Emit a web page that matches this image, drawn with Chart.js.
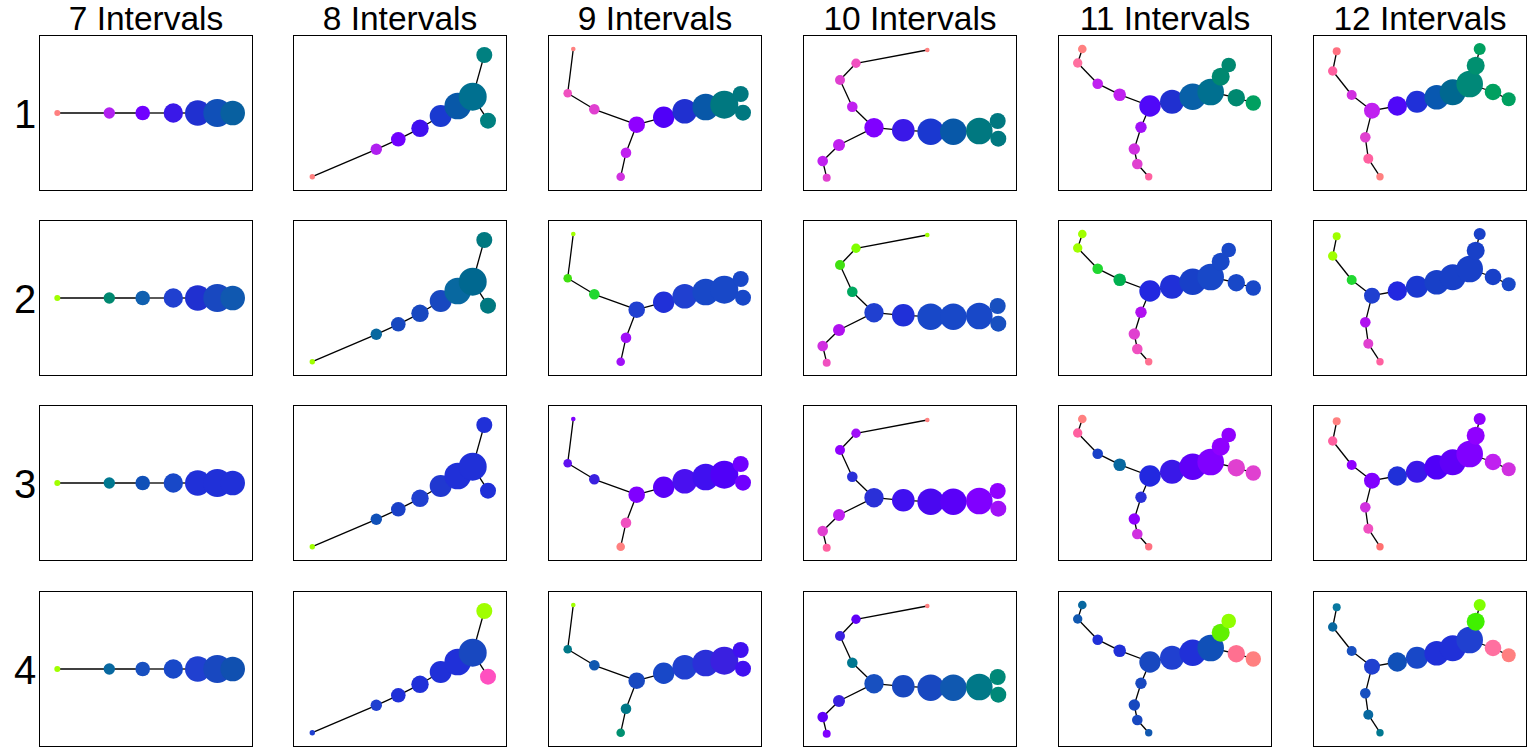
<!DOCTYPE html>
<html lang="en">
<head>
<meta charset="UTF-8">
<title>Intervals</title>
<script src="https://cdn.jsdelivr.net/npm/chart.js"></script>
<style>
  body { margin: 0; background: #fff; font-family: "Liberation Sans", Arial, sans-serif; }
  #page { position: relative; width: 1530px; height: 750px; }
  .panel { position: absolute; width: 212px; height: 154px; border: 1px solid #000; }
  .colTitle { position: absolute; width: 212px; text-align: center; font-size: 33.5px; line-height: 1; color: #000; white-space: nowrap; }
  .rowLabel { position: absolute; width: 30px; text-align: center; font-size: 40px; line-height: 1; color: #000; }
</style>
</head>
<body>
<div id="page"></div>

<script>
// column / row labels
var intervals = [7, 8, 9, 10, 11, 12];
var rowNames = ['1', '2', '3', '4'];

// node layout per column (x, y inside the panel box, radius) and edges
var x7 = [17.3, 69.3, 102.7, 133.3, 157.7, 177.3, 192.7];
var y7 = [77, 77, 77, 77, 77, 77, 77];
var r7 = [3, 5.7, 7.3, 9.7, 12.7, 14, 12.3];
var links7 = [[0,1],[1,2],[2,3],[3,4],[4,5],[5,6]];

var x8 = [18.3, 82.3, 104.3, 126, 146.7, 163.7, 178.7, 190.3, 194];
var y8 = [140.7, 113.3, 103.3, 92.3, 80, 70, 60.7, 19, 84.7];
var r8 = [2.7, 5.7, 7.3, 8.7, 11, 13.3, 14, 8, 8];
var links8 = [[0,1],[1,2],[2,3],[3,4],[4,5],[5,6],[6,7],[6,8]];

var x9 = [24.3, 18.7, 45.3, 87.7, 77, 71.7, 114.7, 135.7, 156.7, 175.3, 191.7, 194];
var y9 = [13, 57.3, 73.3, 88.7, 116.7, 140.7, 81.3, 75.3, 71, 68.7, 58, 76.7];
var r9 = [2.3, 4.3, 5.3, 8.3, 5.3, 4.3, 10.7, 12.3, 13.3, 14, 8, 8];
var links9 = [[0,1],[1,2],[2,3],[3,4],[4,5],[3,6],[6,7],[7,8],[8,9],[9,10],[9,11]];

var x10 = [123.3, 52, 36, 48.3, 70, 35, 18.7, 22.7, 99.3, 126.7, 149.3, 175.3, 193.7, 194.3];
var y10 = [14, 27.3, 44, 70.7, 91.7, 109, 125, 141.7, 94.3, 95.7, 95.7, 95, 85, 102.7];
var r10 = [2.3, 4.7, 5, 5.3, 9.7, 6, 5.3, 4, 11.3, 13.3, 13.3, 13.3, 8, 8];
var links10 = [[0,1],[1,2],[2,3],[3,4],[4,5],[5,6],[6,7],[4,8],[8,9],[9,10],[10,11],[11,12],[11,13]];

var x11 = [23.3, 18.7, 38.7, 60.7, 91, 82, 75.3, 78.3, 89.7, 113, 133.7, 151.7, 161.7, 169.7, 177.3, 194.3];
var y11 = [13, 27, 47.7, 58.7, 70, 91.3, 113, 128, 140.7, 65.7, 60.7, 56, 40.7, 29, 61.7, 67];
var r11 = [4.3, 4.7, 5.3, 6.3, 10.7, 5.7, 5.7, 5.3, 3.7, 12, 13.3, 13.3, 9, 7.3, 8.7, 7.7];
var links11 = [[0,1],[1,2],[2,3],[3,4],[4,5],[5,6],[6,7],[7,8],[4,9],[9,10],[10,11],[11,12],[12,13],[11,14],[14,15]];

var x12 = [22.7, 18.7, 37.7, 58, 51.3, 54.3, 66, 83.3, 103, 122.7, 138.7, 155.7, 161.7, 165.7, 179, 194.7];
var y12 = [15.3, 35, 59, 74.7, 101.3, 122.7, 140.7, 70, 65.7, 61.3, 56.3, 48, 29.7, 13, 56, 63.3];
var r12 = [4, 4.7, 5, 8, 5.3, 5, 3.7, 9.7, 11, 12.3, 13, 13.3, 9, 6, 8.3, 7];
var links12 = [[0,1],[1,2],[2,3],[3,4],[4,5],[5,6],[3,7],[7,8],[8,9],[9,10],[10,11],[11,12],[12,13],[11,14],[14,15]];

// node colours, one list per row (1..4) for each column
var colours7 = [
  ['#ff8080','#b020f0','#7000ff','#3a18e8','#2030d0','#1050b8','#0860a0'],
  ['#a0ff00','#008870','#1060b0','#2040d0','#2030d0','#1848c0','#1058b0'],
  ['#a0ff00','#007890','#1050b8','#1848c8','#2030d8','#2030d8','#2030d8'],
  ['#a0ff00','#0868a0','#1850c0','#1848c8','#2040d0','#1848c0','#1050b0']
];
var colours8 = [
  ['#ff8080','#b020f0','#7000ff','#4010f0','#1a3ad0','#0858a8','#007090','#008080','#008080'],
  ['#a0ff00','#0868a0','#1848c0','#1848c0','#1848c0','#0868a0','#006890','#007880','#007880'],
  ['#a0ff00','#1050b8','#1a40c8','#2040d0','#2038d0','#2030d8','#2030d8','#2030d8','#2030d8'],
  ['#2040d0','#2040d0','#2030d8','#2030d8','#2030d8','#2030d8','#1848c0','#a0ff00','#ff50c0']
];
var colours9 = [
  ['#ff8080','#f050c0','#e040d0','#9000ff','#c020f0','#d030e0','#5000f8','#2030d0','#0858a8','#007880','#007880','#007880'],
  ['#a0ff00','#40e010','#20d830','#2040d0','#a010f8','#a010f8','#2030d8','#2040d0','#1848c8','#1848c8','#1848c8','#1848c8'],
  ['#8000ff','#6010f0','#3a20e0','#8000ff','#f050c0','#ff8080','#5a00f8','#4a10f0','#4010f0','#5000f8','#7000ff','#7000ff'],
  ['#a0ff00','#007888','#1058b0','#1848c0','#007888','#009070','#1848c8','#2040d0','#2a30d8','#3a20e0','#4010f0','#4010f0']
];
var colours10 = [
  ['#ff8080','#f050c0','#e040d0','#c020f0','#8000ff','#c020f0','#c020f0','#e040d0','#3a18e8','#1a38d0','#0858a8','#007880','#007880','#007880'],
  ['#a0ff00','#80ff00','#40e010','#00a860','#2040d0','#b010f0','#d030e0','#f050c0','#2030d8','#1848c8','#1848c8','#1848c8','#1850c0','#1850c0'],
  ['#ff8080','#a010f8','#9000ff','#2a30d8','#2a30d8','#c020f0','#e040d0','#ff60a0','#4010f0','#4a08f0','#5a00f8','#8000ff','#9000ff','#a010f8'],
  ['#ff8080','#6000f8','#3a20e0','#007890','#1850c0','#3a20e0','#6000f8','#8000ff','#1848c0','#1848c0','#1058b0','#007888','#008878','#008878']
];
var colours11 = [
  ['#ff8080','#ff70a0','#c020f0','#c020f0','#5008f8','#a010f8','#d030e0','#e040d0','#ff60a0','#2030d0','#0860a8','#007090','#008870','#008870','#008870','#00a060'],
  ['#a0ff00','#a0ff00','#20d830','#00b050','#2228e0','#b010f0','#e040d0','#f050c0','#ff7090','#2030d8','#1840c8','#1848c8','#1848c8','#1848c8','#1848c8','#1848c8'],
  ['#ff8080','#ff60a0','#1840c8','#0868a0','#2228e0','#2a30d8','#9000ff','#d030e0','#ff7080','#3a18e8','#6000f8','#8000ff','#9000ff','#9000ff','#e040d0','#e040d0'],
  ['#0868a0','#1058b0','#2030d8','#2030d8','#1848c0','#1848c0','#1848c0','#1848c0','#1058b0','#2040d0','#2030d8','#1050b8','#60f000','#90ff00','#ff7090','#ff8080']
];
var colours12 = [
  ['#ff7080','#ff60a0','#d030e0','#c020f0','#e040d0','#ff60a0','#ff8080','#5008f8','#2030d8','#0858b0','#006890','#008878','#009070','#00a060','#00a060','#00a060'],
  ['#a0ff00','#a0ff00','#20d830','#2040d0','#b010f0','#e040d0','#ff60a0','#2228e0','#1a38d0','#1840c8','#1840c8','#1840c8','#1840c8','#1840c8','#1840c8','#1848c8'],
  ['#ff8080','#ff60a0','#9000ff','#8000ff','#d030e0','#f050c0','#ff7070','#2030d8','#3a18e8','#5000f8','#6000f8','#8000ff','#9000ff','#9000ff','#c020f0','#d030e0'],
  ['#0878a0','#0868a0','#1850c0','#2040d0','#1850c0','#0868a0','#007890','#1050b8','#1848c8','#2030d8','#2030d8','#2040d0','#40f000','#80ff00','#ff70a0','#ff8080']
];

var columns = [
  { xs: x7,  ys: y7,  rs: r7,  links: links7,  colours: colours7 },
  { xs: x8,  ys: y8,  rs: r8,  links: links8,  colours: colours8 },
  { xs: x9,  ys: y9,  rs: r9,  links: links9,  colours: colours9 },
  { xs: x10, ys: y10, rs: r10, links: links10, colours: colours10 },
  { xs: x11, ys: y11, rs: r11, links: links11, colours: colours11 },
  { xs: x12, ys: y12, rs: r12, links: links12, colours: colours12 }
];

// where the panels sit on the page
var colLeft = [40, 294, 549, 804, 1059, 1314];
var rowTop = [36, 221, 406, 592];

var page = document.getElementById('page');

intervals.forEach(function (n, c) {
  var t = document.createElement('div');
  t.className = 'colTitle';
  t.style.left = colLeft[c] + 'px';
  t.style.top = '2px';
  t.textContent = n + ' Intervals';
  page.appendChild(t);
});

rowNames.forEach(function (name, r) {
  var l = document.createElement('div');
  l.className = 'rowLabel';
  l.style.left = '10px';
  l.style.top = (rowTop[r] + 58) + 'px';
  l.textContent = name;
  page.appendChild(l);
});

function drawPanel(col, rowIdx, left, top) {
  var box = document.createElement('div');
  box.className = 'panel';
  box.style.left = (left - 1) + 'px';
  box.style.top = (top - 1) + 'px';
  var cv = document.createElement('canvas');
  cv.width = 212;
  cv.height = 154;
  box.appendChild(cv);
  page.appendChild(box);

  var datasets = [];
  col.links.forEach(function (e) {
    datasets.push({
      type: 'line',
      data: [{ x: col.xs[e[0]], y: col.ys[e[0]] }, { x: col.xs[e[1]], y: col.ys[e[1]] }],
      borderColor: '#000',
      borderWidth: 1.3,
      pointRadius: 0,
      fill: false,
      clip: false,
      order: 2
    });
  });

  var nodes = col.xs.map(function (xv, i) {
    return { x: xv, y: col.ys[i], r: col.rs[i] };
  });
  datasets.push({
    type: 'bubble',
    data: nodes,
    backgroundColor: col.colours[rowIdx],
    borderWidth: 0,
    hoverRadius: 0,
    clip: false,
    order: 1
  });

  new Chart(cv, {
    type: 'bubble',
    data: { datasets: datasets },
    options: {
      responsive: false,
      animation: false,
      events: [],
      layout: { padding: 0, autoPadding: false },
      plugins: { legend: { display: false }, tooltip: { enabled: false } },
      scales: {
        x: { type: 'linear', min: 0, max: 212, display: false },
        y: { type: 'linear', min: 0, max: 154, reverse: true, display: false }
      }
    }
  });
}

rowTop.forEach(function (top, r) {
  columns.forEach(function (col, c) {
    drawPanel(col, r, colLeft[c], top);
  });
});
</script>
</body>
</html>
